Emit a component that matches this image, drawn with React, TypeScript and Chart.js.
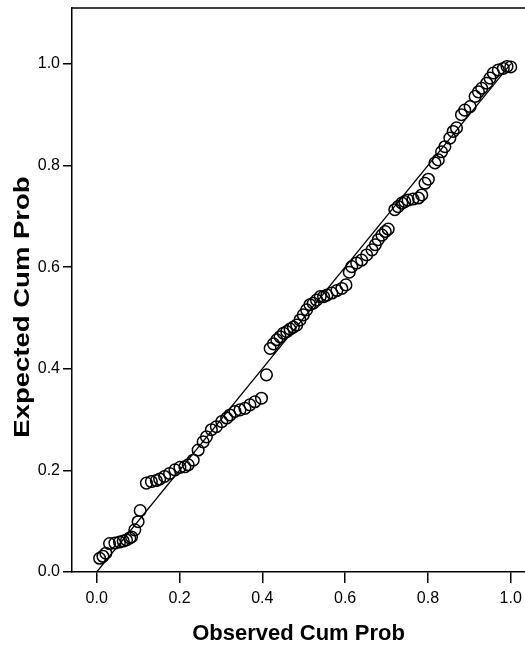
import React, { useEffect, useRef } from 'react';
import { Chart, registerables } from 'chart.js';

Chart.register(...registerables);

// Observed cumulative probability (x) of each case
const observed = [
  0.007, 0.015, 0.022, 0.031, 0.044, 0.055, 0.064, 0.072, 0.080, 0.084,
  0.092, 0.100, 0.105, 0.120, 0.132, 0.144, 0.152, 0.164, 0.176, 0.189,
  0.201, 0.213, 0.221, 0.233, 0.245, 0.257, 0.265, 0.277, 0.289, 0.302,
  0.314, 0.322, 0.334, 0.346, 0.358, 0.370, 0.382, 0.398, 0.410, 0.419,
  0.427, 0.435, 0.443, 0.451, 0.459, 0.467, 0.475, 0.483, 0.491, 0.499,
  0.507, 0.515, 0.523, 0.531, 0.540, 0.548, 0.556, 0.568, 0.580, 0.592,
  0.602, 0.610, 0.616, 0.628, 0.640, 0.652, 0.665, 0.673, 0.680, 0.689,
  0.697, 0.704, 0.720, 0.728, 0.737, 0.744, 0.752, 0.764, 0.777, 0.785,
  0.793, 0.801, 0.817, 0.825, 0.833, 0.841, 0.853, 0.861, 0.869, 0.881,
  0.889, 0.902, 0.914, 0.922, 0.930, 0.942, 0.950, 0.958, 0.970, 0.982,
  0.991, 1.000,
];

// Expected cumulative probability (y) of each case
const expected = [
  0.027, 0.031, 0.037, 0.056, 0.057, 0.059, 0.061, 0.063, 0.067, 0.069,
  0.083, 0.099, 0.121, 0.175, 0.178, 0.180, 0.183, 0.188, 0.194, 0.201,
  0.206, 0.207, 0.211, 0.220, 0.240, 0.256, 0.266, 0.280, 0.286, 0.296,
  0.303, 0.309, 0.316, 0.319, 0.322, 0.329, 0.335, 0.342, 0.388, 0.440,
  0.449, 0.457, 0.463, 0.470, 0.473, 0.478, 0.482, 0.486, 0.496, 0.506,
  0.516, 0.526, 0.529, 0.535, 0.542, 0.542, 0.545, 0.549, 0.554, 0.558,
  0.565, 0.590, 0.601, 0.608, 0.614, 0.624, 0.634, 0.644, 0.654, 0.663,
  0.670, 0.675, 0.713, 0.719, 0.726, 0.729, 0.732, 0.734, 0.736, 0.742,
  0.765, 0.773, 0.805, 0.811, 0.827, 0.837, 0.854, 0.867, 0.874, 0.900,
  0.909, 0.916, 0.936, 0.945, 0.952, 0.962, 0.972, 0.982, 0.988, 0.991,
  0.995, 0.994,
];

// Reference diagonal
const lineX = [0, 1];
const lineY = [0, 1];

const xTicks = [0, 0.2, 0.4, 0.6, 0.8, 1.0];
const yTicks = [0, 0.2, 0.4, 0.6, 0.8, 1.0];

const xTitle = 'Observed Cum Prob';
const yTitle = 'Expected Cum Prob';

const FONT = '"Liberation Sans", Arial, Helvetica, sans-serif';

const framePlugin = {
  id: 'frameTop',
  afterDraw(chart: any) {
    const { ctx, chartArea } = chart;
    ctx.save();
    ctx.strokeStyle = '#000';
    ctx.lineWidth = 1.5;
    ctx.beginPath();
    ctx.moveTo(chartArea.left, chartArea.top);
    ctx.lineTo(chart.width, chartArea.top);
    ctx.stroke();
    // Y axis title (stretched along its length as in the original)
    const cy = (chartArea.top + chartArea.bottom) / 2 + 17;
    ctx.translate(23, cy);
    ctx.rotate(-Math.PI / 2);
    ctx.scale(1.25, 1);
    ctx.font = `bold 22px ${FONT}`;
    ctx.fillStyle = '#000';
    ctx.textAlign = 'center';
    ctx.textBaseline = 'middle';
    ctx.fillText(yTitle, 0, 0);
    ctx.restore();
  },
};

export default function App() {
  const ref = useRef<HTMLCanvasElement | null>(null);

  useEffect(() => {
    if (!ref.current) return;
    const chart = new Chart(ref.current, {
      type: 'scatter',
      data: {
        datasets: [
          {
            type: 'line',
            data: lineX.map((x, i) => ({ x, y: lineY[i] })),
            borderColor: '#000',
            borderWidth: 1.3,
            pointRadius: 0,
            fill: false,
          } as any,
          {
            data: observed.map((x, i) => ({ x, y: expected[i] })),
            pointStyle: 'circle',
            pointRadius: 5.8,
            borderColor: '#000',
            backgroundColor: 'rgba(0,0,0,0)',
            borderWidth: 1.5,
          },
        ],
      },
      options: {
        animation: false,
        responsive: false,
        events: [],
        layout: { autoPadding: false, padding: { top: 8, left: 0, right: 0, bottom: 0 } },
        plugins: { legend: { display: false }, tooltip: { enabled: false } },
        scales: {
          x: {
            type: 'linear',
            min: -0.0597,
            max: 1.0345,
            afterBuildTicks: (s: any) => {
              s.ticks = xTicks.map((v) => ({ value: v }));
            },
            afterFit: (s: any) => {
              s.height = 78;
              s.paddingLeft = 0;
              s.paddingRight = 0;
            },
            ticks: {
              callback: (v: any) => Number(v).toFixed(1),
              color: '#000',
              font: { family: FONT, size: 16 },
              padding: 6,
              maxRotation: 0,
              autoSkip: false,
            },
            grid: {
              drawOnChartArea: false,
              drawTicks: true,
              tickLength: 11,
              color: '#000',
              lineWidth: 1.5,
            },
            border: { display: true, color: '#000', width: 1.5 },
            title: {
              display: true,
              text: xTitle,
              color: '#000',
              font: { family: FONT, size: 22, weight: 'bold' },
              padding: { top: 0, bottom: 3 },
            },
          },
          y: {
            type: 'linear',
            min: 0,
            max: 1.11,
            afterBuildTicks: (s: any) => {
              s.ticks = yTicks.map((v) => ({ value: v }));
            },
            afterFit: (s: any) => {
              s.width = 72;
              s.paddingTop = 0;
              s.paddingBottom = 0;
            },
            ticks: {
              callback: (v: any) => Number(v).toFixed(1),
              color: '#000',
              font: { family: FONT, size: 16 },
              padding: 3,
              autoSkip: false,
            },
            grid: {
              drawOnChartArea: false,
              drawTicks: true,
              tickLength: 9,
              color: '#000',
              lineWidth: 1.5,
            },
            border: { display: true, color: '#000', width: 1.5 },
            title: { display: false },
          },
        },
      } as any,
      plugins: [framePlugin],
    });
    return () => chart.destroy();
  }, []);

  return (
    <div style={{ position: 'fixed', left: 0, top: 0, width: 525, height: 650, background: '#fff' }}>
      <canvas ref={ref} width={525} height={650} style={{ width: 525, height: 650, display: 'block' }} />
    </div>
  );
}
